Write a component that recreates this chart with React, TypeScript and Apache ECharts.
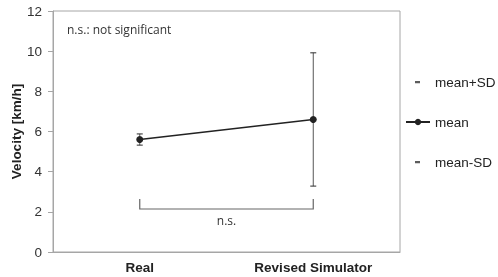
import React, { useEffect, useRef } from "react";
import * as echarts from "echarts";

const categories = ["Real", "Revised Simulator"];
const meanValues = [5.6, 6.6];
const sdValues = [0.28, 3.32];
const bracketLevel = 2.14;
const bracketTip = 2.64;
const bracketLabel = "n.s.";
const noteText = "n.s.: not significant";
const yTicks = { min: 0, max: 12, interval: 2 };

const dashIcon = "path://M0,0L0.01,0M24,8L24.01,8M9,3H14V5.2H9Z";

export default function App() {
  const ref = useRef<HTMLDivElement>(null);
  useEffect(() => {
    if (!ref.current) return;
    const chart = echarts.init(ref.current, undefined, { renderer: "svg" });
    const plus = meanValues.map((m, i) => +(m + sdValues[i]).toFixed(2));
    const minus = meanValues.map((m, i) => +(m - sdValues[i]).toFixed(2));
    const font = "Liberation Sans, Arial, sans-serif";
    chart.setOption({
      animation: false,
      textStyle: { fontFamily: font },
      title: {
        text: noteText,
        left: 67,
        top: 23,
        padding: 0,
        textStyle: { fontFamily: "Open Sans", fontSize: 12, fontWeight: "normal", color: "#333" },
      },
      grid: {
        left: 53,
        right: 98,
        top: 11,
        bottom: 25,
        containLabel: false,
        outerBoundsMode: "none",
        show: true,
        borderColor: "#a6a6a6",
        borderWidth: 1,
      },
      legend: {
        orient: "vertical",
        left: 405,
        top: 75,
        itemWidth: 24,
        itemHeight: 8,
        itemGap: 26,
        padding: 0,
        textStyle: { fontFamily: font, fontSize: 13.5, color: "#222" },
        data: [
          { name: "mean+SD", icon: dashIcon },
          { name: "mean" },
          { name: "mean-SD", icon: dashIcon },
        ],
      },
      xAxis: {
        type: "category",
        data: categories,
        boundaryGap: true,
        axisLine: { lineStyle: { color: "#a6a6a6" } },
        axisTick: { alignWithLabel: true, length: 3, lineStyle: { color: "#a6a6a6" } },
        axisLabel: { fontSize: 13.5, fontWeight: "bold", color: "#222", margin: 8 },
      },
      yAxis: {
        type: "value",
        min: yTicks.min,
        max: yTicks.max,
        interval: yTicks.interval,
        name: "Velocity [km/h]",
        nameLocation: "middle",
        nameGap: 30,
        nameMoveOverlap: false,
        nameTextStyle: { fontSize: 13.5, fontWeight: "bold", color: "#222" },
        axisLine: { show: true, lineStyle: { color: "#a6a6a6" } },
        axisTick: { show: true, length: 5, lineStyle: { color: "#a6a6a6" } },
        axisLabel: { fontSize: 13.5, color: "#333", margin: 11 },
        splitLine: { show: false },
      },
      series: [
        {
          name: "sd",
          type: "custom",
          data: meanValues.map((m, i) => [i, minus[i], plus[i]]),
          renderItem: (params: any, api: any) => {
            const x = api.value(0);
            const lo = api.coord([x, api.value(1)]);
            const hi = api.coord([x, api.value(2)]);
            return {
              type: "line",
              shape: { x1: lo[0], y1: lo[1], x2: hi[0], y2: hi[1] },
              style: { stroke: "#555", lineWidth: 1 },
            };
          },
          z: 1,
        },
        {
          name: "mean+SD",
          type: "scatter",
          data: plus,
          symbol: "rect",
          symbolSize: [6, 1.3],
          itemStyle: { color: "#333" },
          z: 2,
        },
        {
          name: "mean",
          type: "line",
          data: meanValues,
          symbol: "circle",
          symbolSize: 7,
          lineStyle: { color: "#222", width: 1.5 },
          itemStyle: { color: "#222" },
          z: 3,
        },
        {
          name: "mean-SD",
          type: "scatter",
          data: minus,
          symbol: "rect",
          symbolSize: [6, 1.3],
          itemStyle: { color: "#333" },
          z: 2,
        },
        {
          name: "bracket",
          type: "custom",
          data: [[0, 1, bracketLevel, bracketTip]],
          renderItem: (params: any, api: any) => {
            const a = api.value(0);
            const b = api.value(1);
            const lv = api.value(2);
            const tp = api.value(3);
            const p1 = api.coord([a, tp]);
            const p2 = api.coord([a, lv]);
            const p3 = api.coord([b, lv]);
            const p4 = api.coord([b, tp]);
            return {
              type: "group",
              children: [
                {
                  type: "polyline",
                  shape: { points: [p1, p2, p3, p4] },
                  style: { stroke: "#666", lineWidth: 1.2, fill: "none" },
                },
                {
                  type: "text",
                  style: {
                    text: bracketLabel,
                    x: (p2[0] + p3[0]) / 2,
                    y: p2[1] + 11,
                    align: "center",
                    verticalAlign: "middle",
                    fontFamily: "Open Sans",
                    fontSize: 12,
                    fill: "#333",
                  },
                },
              ],
            };
          },
        },
      ],
    });
    return () => chart.dispose();
  }, []);
  return <div ref={ref} style={{ position: "fixed", left: 0, top: 0, width: 498, height: 277 }} />;
}
